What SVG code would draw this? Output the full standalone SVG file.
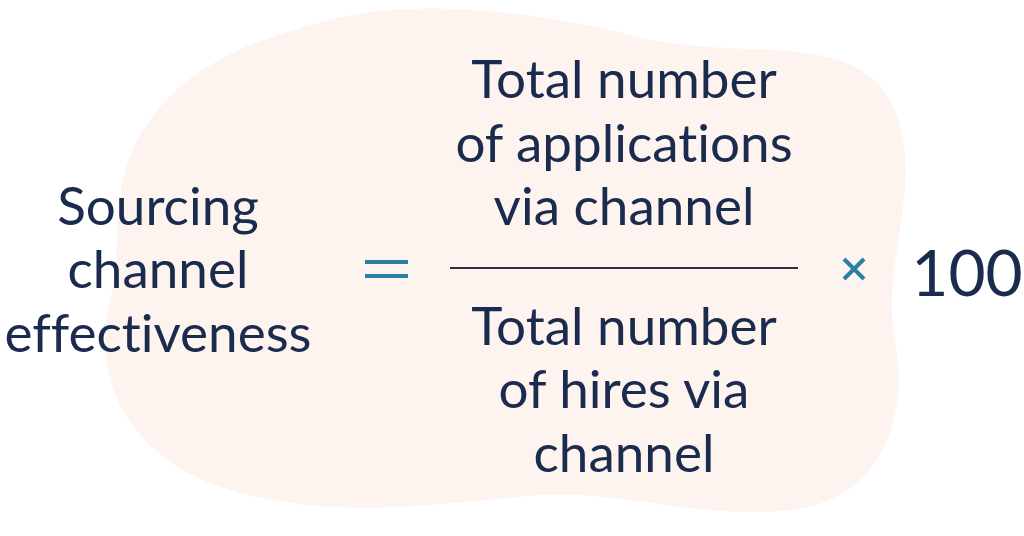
<svg xmlns="http://www.w3.org/2000/svg" width="1024" height="536" viewBox="0 0 1024 536">
<style>
.t{font-family:"Lato","Liberation Sans",sans-serif;font-size:53px;fill:#1b2b4e;text-anchor:middle;font-variant-ligatures:none}
.a{stroke:#2a80a3;stroke-width:4;fill:none}
</style>
<rect width="1024" height="536" fill="#ffffff"/>
<path d="M330,20 C420,-5 560,15 650,40 C760,60 860,30 895,110 C925,190 880,260 895,340 C910,420 880,500 790,510 C700,520 620,490 540,495 C430,505 330,520 230,490 C130,460 90,380 110,300 C125,240 105,180 150,120 C190,65 250,40 330,20 Z" fill="#fdf3ef"/>
<g id="lhs">
<text class="t" x="158" y="225">Sourcing</text>
<text class="t" x="158" y="288">channel</text>
<text class="t" x="158" y="352">effectiveness</text>
</g>
<g id="equals"><path class="a" d="M365,262 H408 M365,276 H408"/></g>
<g id="numerator">
<text class="t" x="624" y="98">Total number</text>
<text class="t" x="624" y="162">of applications</text>
<text class="t" x="624" y="225">via channel</text>
</g>
<g id="fraction"><line x1="450" y1="268" x2="798" y2="268" stroke="#2c3440" stroke-width="2"/></g>
<g id="denominator">
<text class="t" x="624" y="345">Total number</text>
<text class="t" x="624" y="408">of hires via</text>
<text class="t" x="624" y="472">channel</text>
</g>
<g id="times"><path class="a" stroke-width="3" d="M844,259 L864,279 M864,259 L844,279"/></g>
<g id="hundred"><text class="t" x="967" y="296" style="font-size:64px">100</text></g>
</svg>
